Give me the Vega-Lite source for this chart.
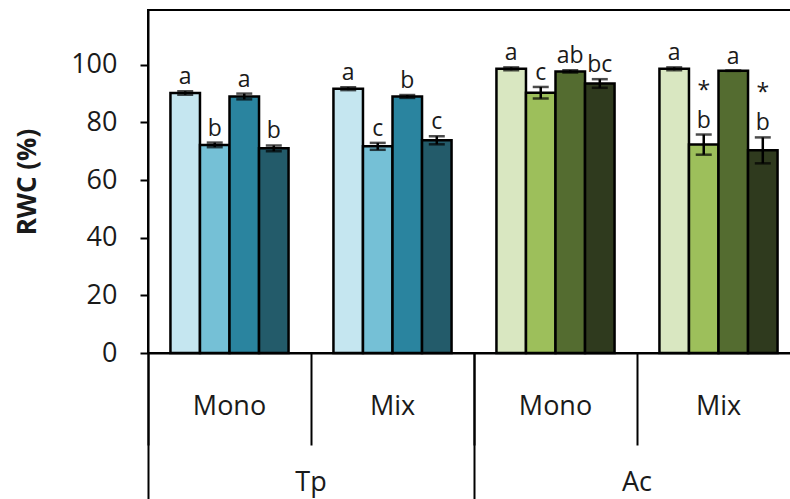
{
  "$schema": "https://vega.github.io/schema/vega-lite/v6.json",
  "width": 652,
  "height": 343,
  "autosize": {"type": "none"},
  "padding": {"left": 148, "top": 10, "right": 0, "bottom": 146},
  "background": "white",
  "config": {
    "view": {"stroke": "black", "strokeWidth": 2},
    "font": "Open Sans",
    "axis": {"grid": false, "domainColor": "black", "domainWidth": 2, "tickColor": "black", "tickWidth": 2, "labelColor": "#1a1a1a", "labelFont": "Open Sans", "labelFontSize": 27, "titleColor": "#1a1a1a"}
  },
  "resolve": {"scale": {"x": "independent"}},
  "layer": [
    {
      "data": {"values": [
        {"grp": "Tp|Mono", "bar": "1", "trt": "Tp1", "value": 90.2, "lo": 89.6, "hi": 90.8, "letter": "a", "sig": ""},
        {"grp": "Tp|Mono", "bar": "2", "trt": "Tp2", "value": 72.2, "lo": 71.4, "hi": 73.0, "letter": "b", "sig": ""},
        {"grp": "Tp|Mono", "bar": "3", "trt": "Tp3", "value": 89.0, "lo": 88.0, "hi": 90.0, "letter": "a", "sig": ""},
        {"grp": "Tp|Mono", "bar": "4", "trt": "Tp4", "value": 71.0, "lo": 70.0, "hi": 72.0, "letter": "b", "sig": ""},
        {"grp": "Tp|Mix", "bar": "1", "trt": "Tp1", "value": 91.7, "lo": 91.2, "hi": 92.2, "letter": "a", "sig": ""},
        {"grp": "Tp|Mix", "bar": "2", "trt": "Tp2", "value": 71.7, "lo": 70.5, "hi": 72.9, "letter": "c", "sig": ""},
        {"grp": "Tp|Mix", "bar": "3", "trt": "Tp3", "value": 89.0, "lo": 88.5, "hi": 89.5, "letter": "b", "sig": ""},
        {"grp": "Tp|Mix", "bar": "4", "trt": "Tp4", "value": 73.8, "lo": 72.4, "hi": 75.2, "letter": "c", "sig": ""},
        {"grp": "Ac|Mono", "bar": "1", "trt": "Ac1", "value": 98.6, "lo": 98.1, "hi": 99.1, "letter": "a", "sig": ""},
        {"grp": "Ac|Mono", "bar": "2", "trt": "Ac2", "value": 90.3, "lo": 88.3, "hi": 92.3, "letter": "c", "sig": ""},
        {"grp": "Ac|Mono", "bar": "3", "trt": "Ac3", "value": 97.7, "lo": 97.3, "hi": 98.1, "letter": "ab", "sig": ""},
        {"grp": "Ac|Mono", "bar": "4", "trt": "Ac4", "value": 93.5, "lo": 92.0, "hi": 95.0, "letter": "bc", "sig": ""},
        {"grp": "Ac|Mix", "bar": "1", "trt": "Ac1", "value": 98.6, "lo": 98.1, "hi": 99.1, "letter": "a", "sig": ""},
        {"grp": "Ac|Mix", "bar": "2", "trt": "Ac2", "value": 72.3, "lo": 68.8, "hi": 75.8, "letter": "b", "sig": "*"},
        {"grp": "Ac|Mix", "bar": "3", "trt": "Ac3", "value": 97.9, "lo": 97.9, "hi": 97.9, "letter": "a", "sig": ""},
        {"grp": "Ac|Mix", "bar": "4", "trt": "Ac4", "value": 70.3, "lo": 65.8, "hi": 74.8, "letter": "b", "sig": "*"}
      ]},
      "encoding": {
        "x": {
          "field": "grp", "type": "nominal",
          "scale": {"domain": ["Tp|Mono", "Tp|Mix", "Ac|Mono", "Ac|Mix"], "paddingInner": 0, "paddingOuter": 0},
          "axis": {"orient": "bottom", "title": null, "bandPosition": 0, "tickSize": 92, "labelAngle": 0, "labelBaseline": "middle", "labelPadding": -39, "labelExpr": "split(datum.value, '|')[1]", "labelColor": "#1a1a1a"}
        },
        "xOffset": {"field": "bar", "type": "nominal", "scale": {"paddingInner": 0, "paddingOuter": 0.76}}
      },
      "layer": [
        {
          "mark": {"type": "bar", "stroke": "black", "strokeWidth": 2.5},
          "encoding": {
            "y": {
              "field": "value", "type": "quantitative",
              "scale": {"domain": [0, 119], "nice": false},
              "axis": {"values": [0, 20, 40, 60, 80, 100], "tickSize": 8, "labelPadding": 23, "title": "RWC (%)", "titleFontSize": 26, "titleFontWeight": "bold", "titlePadding": 30, "titleFont": "Open Sans"}
            },
            "color": {
              "field": "trt", "type": "nominal", "legend": null,
              "scale": {
                "domain": ["Tp1", "Tp2", "Tp3", "Tp4", "Ac1", "Ac2", "Ac3", "Ac4"],
                "range": ["#c5e6f0", "#75c0d6", "#2a849f", "#235b6a", "#d9e7c1", "#9dbf5b", "#546c30", "#2f3a1e"]
              }
            }
          }
        },
        {
          "mark": {"type": "rule", "color": "black", "strokeWidth": 2.5},
          "encoding": {"y": {"field": "lo", "type": "quantitative"}, "y2": {"field": "hi"}}
        },
        {
          "mark": {"type": "tick", "color": "black", "thickness": 2.5, "size": 16, "orient": "horizontal"},
          "encoding": {"y": {"field": "lo", "type": "quantitative"}}
        },
        {
          "mark": {"type": "tick", "color": "black", "thickness": 2.5, "size": 16, "orient": "horizontal"},
          "encoding": {"y": {"field": "hi", "type": "quantitative"}}
        },
        {
          "mark": {"type": "text", "font": "Open Sans", "fontSize": 23, "color": "#1a1a1a", "baseline": "alphabetic", "dy": -7},
          "encoding": {"y": {"field": "hi", "type": "quantitative"}, "text": {"field": "letter"}}
        },
        {
          "mark": {"type": "text", "font": "Open Sans", "fontSize": 23, "color": "#1a1a1a", "baseline": "alphabetic", "dy": -37},
          "encoding": {"y": {"field": "hi", "type": "quantitative"}, "text": {"field": "sig"}}
        }
      ]
    },
    {
      "data": {"values": [{"species": "Tp"}, {"species": "Ac"}]},
      "mark": {"type": "bar", "opacity": 0},
      "encoding": {
        "x": {
          "field": "species", "type": "nominal",
          "scale": {"type": "band", "domain": ["Tp", "Ac"], "paddingInner": 0, "paddingOuter": 0},
          "axis": {"orient": "bottom", "title": null, "ticks": true, "tickOpacity": 1, "tickColor": "black", "tickWidth": 2, "bandPosition": 0, "tickSize": 152, "domain": false, "labelAngle": 0, "labelBaseline": "middle", "labelPadding": -23, "labelColor": "#1a1a1a", "zindex": 2}
        }
      }
    }
  ]
}
